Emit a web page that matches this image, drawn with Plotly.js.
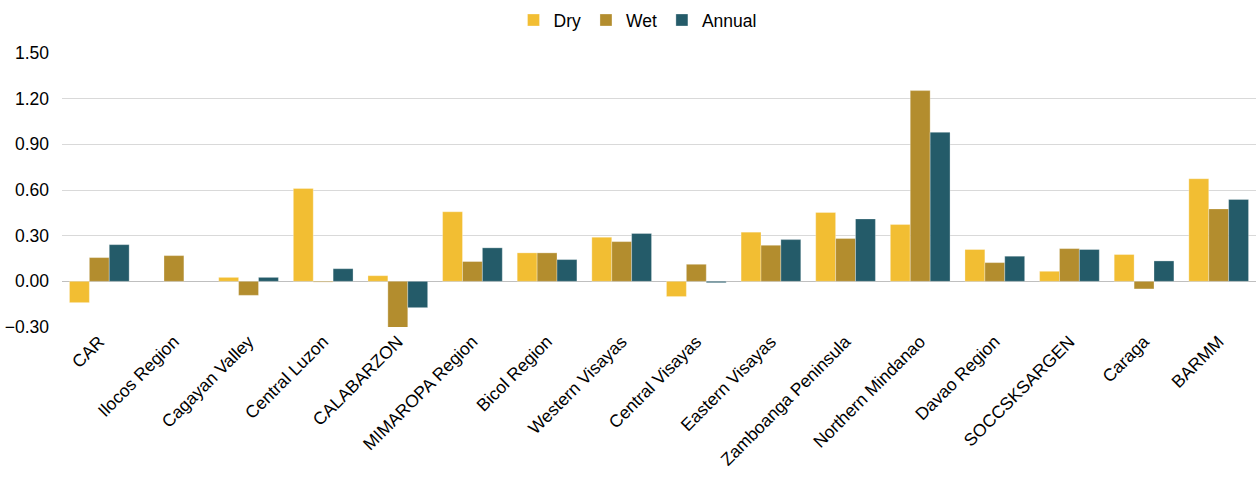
<!DOCTYPE html>
<html><head><meta charset="utf-8">
<script src="https://cdn.plot.ly/plotly-3.0.1.min.js"></script>
<style>html,body{margin:0;padding:0;background:#fff}#chart{width:1256px;height:478px}</style>
</head><body><div id="chart"></div>
<script>
const categories = ["CAR","Ilocos Region","Cagayan Valley","Central Luzon","CALABARZON","MIMAROPA Region","Bicol Region","Western Visayas","Central Visayas","Eastern Visayas","Zamboanga Peninsula","Northern Mindanao","Davao Region","SOCCSKSARGEN","Caraga","BARMM"];
const dry    = [-0.14, null, 0.026, 0.61, 0.037, 0.457, 0.187, 0.29, -0.10, 0.323, 0.452, 0.373, 0.209, 0.066, 0.176, 0.674];
const wet    = [0.156, 0.169, -0.092, -0.005, -0.33, 0.13, 0.187, 0.261, 0.112, 0.237, 0.281, 1.253, 0.123, 0.215, -0.05, 0.476];
const annual = [0.241, null, 0.026, 0.083, -0.173, 0.22, 0.143, 0.314, -0.009, 0.274, 0.41, 0.979, 0.165, 0.209, 0.134, 0.538];
const tickVals = [-0.3, 0, 0.3, 0.6, 0.9, 1.2, 1.5];

const font = {family: "Liberation Sans, Arial, sans-serif", size: 17.5, color: "#000"};
const mk = (name, y, color) => ({type: "bar", name, x: categories, y, marker: {color, line: {color: "rgba(255,255,255,0.6)", width: 0.5}}});
const data = [mk("Dry", dry, "#F2BE33"), mk("Wet", wet, "#B38D2E"), mk("Annual", annual, "#245B69")];
const layout = {
  width: 1256, height: 478,
  margin: {l: 62, r: 0, t: 53, b: 151},
  font,
  paper_bgcolor: "#fff", plot_bgcolor: "#fff",
  barmode: "group", bargap: 0.2, bargroupgap: 0,
  showlegend: true,
  legend: {orientation: "h", x: 0.482, xanchor: "center", y: 1.12, yanchor: "middle", font: {size: 17.5}, itemwidth: 30, itemgap: 0, traceorder: "normal"},
  xaxis: {tickangle: -45, showgrid: false, showline: false, ticks: "", tickfont: {size: 17.5}, automargin: false},
  yaxis: {range: [-0.3, 1.5], tickvals: tickVals, tickformat: ".2f", showgrid: true, gridcolor: "#d9d9d9", gridwidth: 1, zeroline: true, zerolinecolor: "#bfbfbf", zerolinewidth: 1, ticks: "", ticklabelstandoff: 12, tickfont: {size: 17.5}, automargin: false}
};
Plotly.newPlot("chart", data, layout, {displayModeBar: false, staticPlot: true});
</script></body></html>
